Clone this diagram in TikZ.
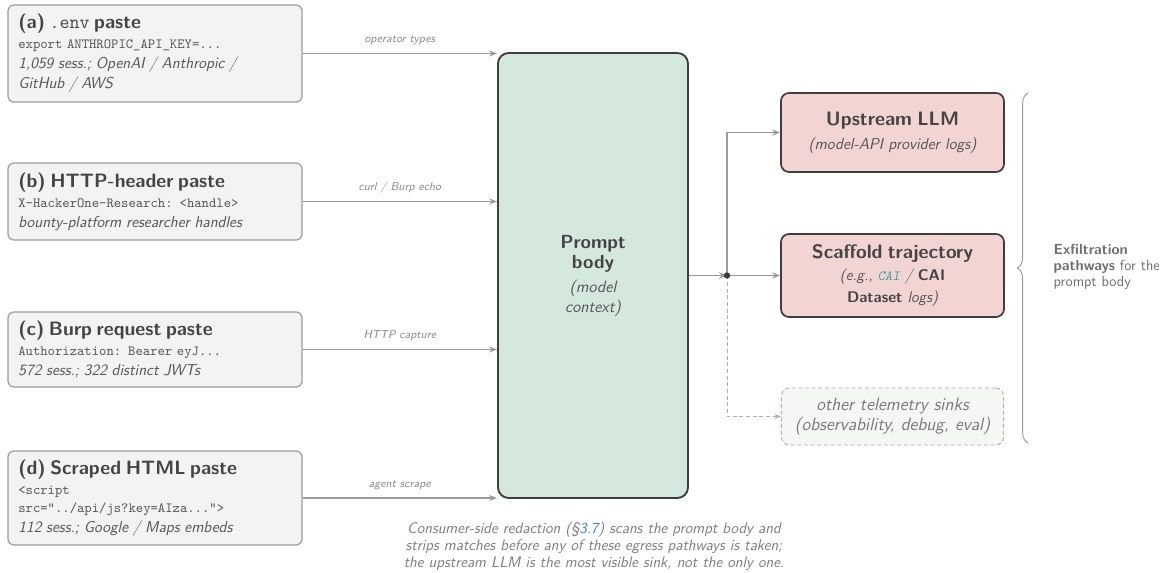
\documentclass[tikz,border=0pt]{standalone}
\usepackage{fontspec}
\usetikzlibrary{arrows.meta,decorations.pathreplacing}
\renewcommand{\familydefault}{\sfdefault}
\definecolor{cgray}{HTML}{9A9A9A}
\definecolor{ltxt}{HTML}{8A8A8A}
\definecolor{dtxt}{HTML}{444444}
\definecolor{itxt}{HTML}{555555}
\definecolor{srcfill}{HTML}{F3F3F3}
\definecolor{srcdraw}{HTML}{9C9C9C}
\definecolor{pbfill}{HTML}{D5E8DD}
\definecolor{dkdraw}{HTML}{3E3E3E}
\definecolor{sinkfill}{HTML}{F2D5D2}
\definecolor{telfill}{HTML}{F5F7F5}
\definecolor{teltxt}{HTML}{7A7A7A}
\definecolor{caiteal}{HTML}{4A9E9E}
\definecolor{refblue}{HTML}{3A7BD5}
\newcommand{\ttl}{\fontsize{14.5}{15}\selectfont\bfseries\color{dtxt}}
\newcommand{\itl}{\fontsize{11.8}{15}\selectfont\itshape}
\begin{document}
\begin{tikzpicture}[x=0.75pt,y=-0.75pt,
  srcbox/.style={draw=srcdraw, fill=srcfill, line width=0.9pt, rounded corners=4pt,
    minimum width=220.5pt, text width=205pt, align=left, inner xsep=7pt, text=itxt,
    font=\fontsize{10.5}{15}\selectfont},
  sinkbox/.style={draw=dkdraw, fill=sinkfill, line width=1.3pt, rounded corners=6pt,
    minimum width=167.25pt, text width=160pt, align=center, text=dtxt},
  conn/.style={draw=cgray, line width=0.8pt, -{Stealth[length=6pt,width=4.5pt,inset=2pt]}},
  dconn/.style={draw=cgray!80, line width=0.7pt, dashed, dash pattern=on 3pt off 2pt, -{Stealth[length=5pt,width=4pt,inset=2pt]}},
  lbl/.style={font=\fontsize{8.6}{10}\selectfont\itshape, text=ltxt, above=2.5pt}
]
\useasboundingbox (0,0) rectangle (1166,573);

% source boxes
\node[srcbox, minimum height=72.75pt] (a) at (155,53.5) {{\ttl (a) \texttt{\mdseries .env} paste}\\
  \texttt{export ANTHROPIC\_API\_KEY=...}\\ {\itl 1,059 sess.; OpenAI / Anthropic /\\ GitHub / AWS}};
\node[srcbox, minimum height=57.75pt] (b) at (155,201.5) {{\ttl (b) HTTP-header paste}\\
  \texttt{X-HackerOne-Research: <handle>}\\ {\itl bounty-platform researcher handles}};
\node[srcbox, minimum height=56.25pt] (c) at (155,349.5) {{\ttl (c) Burp request paste}\\
  \texttt{Authorization: Bearer eyJ...}\\ {\itl 572 sess.; 322 distinct JWTs}};
\node[srcbox, minimum height=70.5pt] (d) at (155,498) {{\ttl (d) Scraped HTML paste}\\
  \texttt{<script}\\[-1.5pt] \texttt{src="../api/js?key=AIza...">}\\ {\itl 112 sess.; Google / Maps embeds}};

% prompt body
\node[draw=dkdraw, fill=pbfill, line width=1.4pt, rounded corners=8pt,
  minimum width=142.5pt, minimum height=333.75pt, text width=130pt, align=center, text=dtxt,
  font=\fontsize{12.3}{15}\selectfont] (pb) at (593,275.5)
  {{\fontsize{14.2}{15}\selectfont\bfseries Prompt\\ body}\\[3pt]
   {\itshape\color{itxt}(model\\ context)}};

% inputs
\draw[conn] (a.east) -- (a.east -| pb.west) node[lbl, midway] {operator types};
\draw[conn] (b.east) -- (b.east -| pb.west) node[lbl, midway] {curl / Burp echo};
\draw[conn] (c.east) -- (c.east -| pb.west) node[lbl, midway] {HTTP capture};
\draw[conn] (d.east) -- (d.east -| pb.west) node[lbl, midway] {agent scrape};

% sinks
\node[sinkbox, minimum height=59.25pt, font=\fontsize{11.9}{18}\selectfont] (up) at (892.5,132.5)
  {{\fontsize{14.6}{17}\selectfont\bfseries Upstream LLM}\\
   {\itshape\color{itxt}(model-API provider logs)}};
\node[sinkbox, minimum height=62.25pt, font=\fontsize{11.6}{16.5}\selectfont] (sc) at (892.5,275.5)
  {{\fontsize{14.6}{17}\selectfont\bfseries Scaffold trajectory}\\
   {\itshape\color{itxt}(e.g., \textcolor{caiteal}{\fontsize{10.5}{12}\selectfont\texttt{\slshape CAI}} /} \textbf{CAI}\\ \textbf{Dataset} {\itshape\color{itxt}logs)}};
\node[draw=cgray!80, fill=telfill, line width=0.7pt, dashed, dash pattern=on 3pt off 2pt,
  rounded corners=6pt, minimum width=164.25pt, minimum height=42.75pt, text width=160pt, align=center,
  text=teltxt, font=\fontsize{13.4}{15}\selectfont\itshape] (tel) at (892.5,416.5)
  {other telemetry sinks\\ (observability, debug, eval)};

% junction
\coordinate (j) at (727,275.5);
\draw[conn, line width=1.4pt, -{Stealth[length=6pt,width=5pt,inset=2pt]}] (pb.east |- j) -- (j);
\draw[conn, arrows=-] (j) |- ([xshift=-1pt]up.west);
\draw[conn] (j |- up.west) -- (up.west);
\draw[conn] (j) -- (sc.west);
\draw[dconn] (j) |- (tel.west);
\fill[dkdraw] (j) circle (3.2);

% brace
\draw[cgray, line width=0.7pt, decorate, decoration={brace, amplitude=8pt}]
  (1028,443) -- (1028,93) coordinate[midway] (bm);
\node[anchor=west, text width=100pt, align=left, text=ltxt!80!black, font=\fontsize{11}{11.8}\selectfont] (ex) at (1049,267)
  {\textbf{Exfiltration}\\ \textbf{pathways} for the\\ prompt body};

% caption
\node[text width=340pt, align=center, text=ltxt!90!black, font=\fontsize{11.5}{12.8}\selectfont\itshape] (cap) at (594,546)
  {Consumer-side redaction (§\textcolor{refblue}{3.7}) scans the prompt body and\\
   strips matches before any of these egress pathways is taken;\\
   the upstream LLM is the most visible sink, not the only one.};
\end{tikzpicture}
\end{document}
